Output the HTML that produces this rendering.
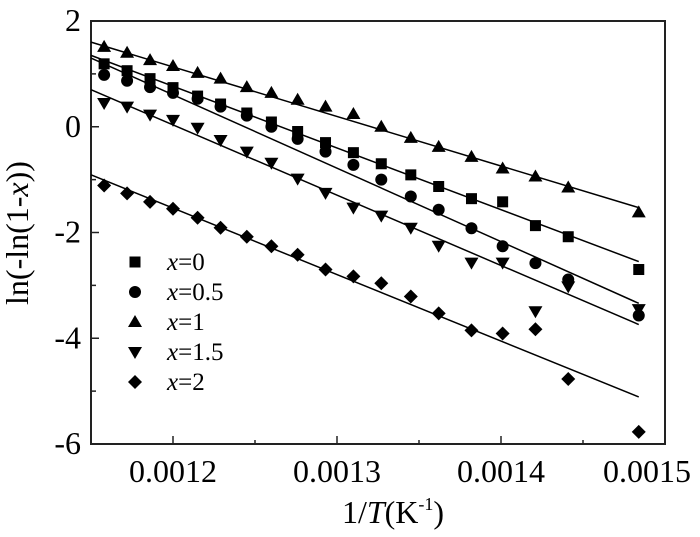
<!DOCTYPE html>
<html><head><meta charset="utf-8"><style>
body{margin:0;background:#fff;}
svg{display:block;font-family:"Liberation Serif",serif;}
</style></head><body>
<svg id="chart" width="700" height="537">
<rect x="91" y="21" width="574" height="423" fill="none" stroke="#222" stroke-width="2"/>
<g id="axes"></g><g id="lines"></g><g id="marks"></g><g id="legend"></g>
<text x="28" y="233" font-size="32" text-anchor="middle" transform="rotate(-90 28 233)">ln(-ln(1-<tspan font-style="italic">x</tspan>))</text>
<text x="393" y="523" font-size="32" text-anchor="middle">1/<tspan font-style="italic">T</tspan>(K<tspan font-size="18" dy="-13">-1</tspan><tspan dy="13">)</tspan></text>
</svg>
<script>
const xs=[0.001158,0.001172,0.001186,0.0012,0.001215,0.001229,0.001245,0.00126,0.001276,0.001293,0.00131,0.001327,0.001345,0.001362,0.001382,0.001401,0.001421,0.001441,0.001484];
const s0=[1.19,1.06,0.91,0.74,0.58,0.43,0.26,0.09,-0.09,-0.30,-0.49,-0.70,-0.91,-1.13,-1.36,-1.42,-1.87,-2.08,-2.70];
const s05=[0.98,0.87,0.75,0.64,0.53,0.38,0.21,0.0,-0.23,-0.47,-0.72,-1.0,-1.32,-1.57,-1.92,-2.26,-2.58,-2.89,-3.57];
const s1=[1.51,1.40,1.26,1.15,1.02,0.91,0.75,0.64,0.51,0.38,0.24,0.0,-0.21,-0.38,-0.57,-0.79,-0.94,-1.15,-1.62];
const s15=[0.45,0.38,0.23,0.13,-0.02,-0.25,-0.47,-0.68,-0.98,-1.25,-1.53,-1.68,-1.91,-2.25,-2.57,-2.57,-3.49,-3.02,-3.45];
const s2=[-1.11,-1.26,-1.42,-1.55,-1.72,-1.91,-2.08,-2.26,-2.42,-2.70,-2.83,-2.96,-3.21,-3.53,-3.85,-3.91,-3.83,-4.77,-5.77];
const fitStart=[1.35,1.30,1.60,0.70,-0.91];
const fitEnd=[-2.55,-3.34,-1.53,-3.74,-5.11];
const fitX=[0.00115,0.001484];
const xTicks=[0.0012,0.0013,0.0014,0.0015];
const xTickLabels=["0.0012","0.0013","0.0014","0.0015"];
const yTicks=[2,0,-2,-4,-6];
const yTickLabels=["2","0","-2","-4","-6"];
const legendLabels=["0","0.5","1","1.5","2"];
const NS="http://www.w3.org/2000/svg";
const X=v=>91+(v-0.00115)/0.00035*574;
const Y=v=>21+(2-v)/8*423;
function mk(tag,attrs,parent){const e=document.createElementNS(NS,tag);for(const k in attrs)e.setAttribute(k,attrs[k]);document.getElementById(parent).appendChild(e);return e;}
for(let i=0;i<xTicks.length;i++){
  const t=mk('line',{x1:X(xTicks[i]),x2:X(xTicks[i]),y1:444,y2:436,stroke:'#222','stroke-width':1.5},'axes');
  
  
  const m=X(xTicks[i])+82;
  if(m<665){const mt=mk('line',{x1:m,x2:m,y1:444,y2:440,stroke:'#222','stroke-width':1.5},'axes');
  
  }
  const lx=Math.min(X(xTicks[i]),647);
  const l=mk('text',{x:lx,y:482,'font-size':32,'text-anchor':'middle'},'axes');l.textContent=xTickLabels[i];
  
  
}
const mx=X(0.0012)-82;
const mxt=mk('line',{x1:mx,x2:mx,y1:444,y2:440,stroke:'#222','stroke-width':1.5},'axes');
for(let i=0;i<yTicks.length;i++){
  const t=mk('line',{x1:91,x2:99,y1:Y(yTicks[i]),y2:Y(yTicks[i]),stroke:'#222','stroke-width':1.5},'axes');
  
  
  if(yTicks[i]>-6){const mt=mk('line',{x1:91,x2:96,y1:Y(yTicks[i]-1),y2:Y(yTicks[i]-1),stroke:'#222','stroke-width':1.5},'axes');
  
  }
  const l=mk('text',{x:81,y:Y(yTicks[i])+10,'font-size':32,'text-anchor':'end'},'axes');l.textContent=yTickLabels[i];
  
  
}
function marker(type,cx,cy,parent){
  let e;
  if(type==0)e=mk('rect',{x:cx-5.5,y:cy-5.5,width:11,height:11,fill:'#000'},parent);
  else if(type==1)e=mk('circle',{cx:cx,cy:cy,r:6,fill:'#000'},parent);
  else if(type==2)e=mk('polygon',{points:`${cx},${cy-7} ${cx-7},${cy+5} ${cx+7},${cy+5}`,fill:'#000'},parent);
  else if(type==3)e=mk('polygon',{points:`${cx},${cy+7} ${cx-7},${cy-5} ${cx+7},${cy-5}`,fill:'#000'},parent);
  else e=mk('polygon',{points:`${cx},${cy-7} ${cx+7},${cy} ${cx},${cy+7} ${cx-7},${cy}`,fill:'#000'},parent);
  return e;
}
const series=[s0,s05,s1,s15,s2];
const names=['x0','x0.5','x1','x1.5','x2'];
series.forEach((s,k)=>{
  const ln=mk('line',{x1:X(fitX[0]),y1:Y(fitStart[k]),x2:X(fitX[1]),y2:Y(fitEnd[k]),stroke:'#000','stroke-width':1.5},'lines');
  
  
  s.forEach((v,i)=>{
    const m=marker(k,X(xs[i]),Y(v),'marks');
    
    
  });
  const ly=262+k*30;
  const lm=marker(k,135,ly,'legend');
  
  
  const t=mk('text',{x:167,y:ly+8,'font-size':25},'legend');
  t.innerHTML='<tspan font-style="italic">x</tspan>='+legendLabels[k];
  
  
});
</script>
</body></html>
